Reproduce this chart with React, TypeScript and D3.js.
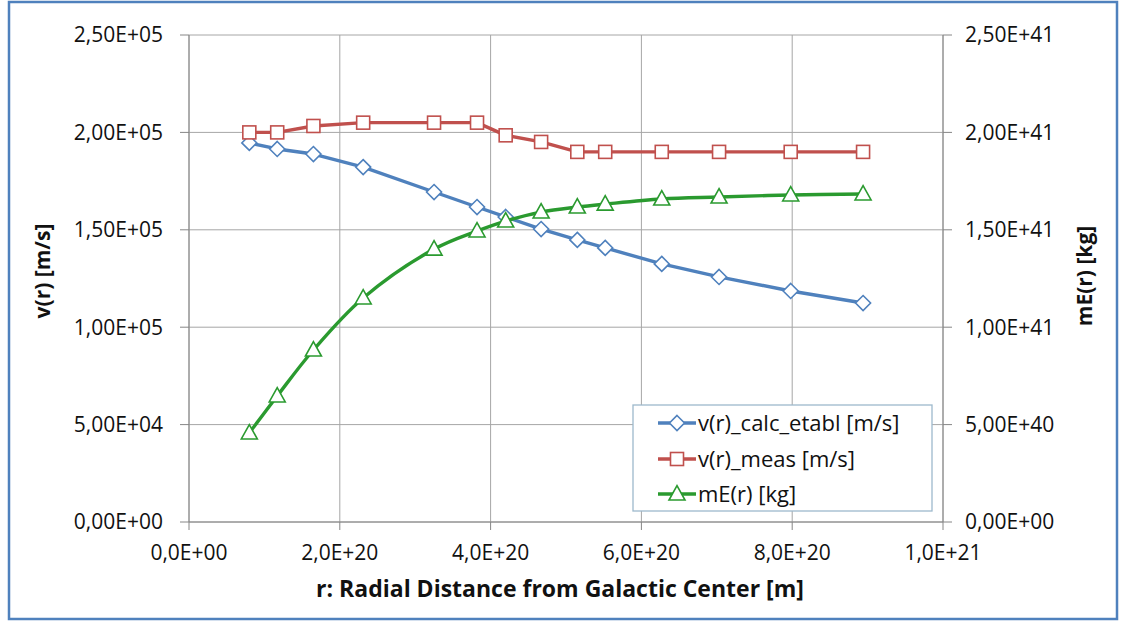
import React from 'react';
import * as d3 from 'd3';

// r in units of 1e20 m
const radius = [0.8, 1.17, 1.65, 2.31, 3.25, 3.82, 4.2, 4.67, 5.15, 5.52, 6.27, 7.03, 7.98, 8.94];
// velocities in units of 1e5 m/s
const vCalc = [1.946, 1.915, 1.889, 1.822, 1.694, 1.617, 1.566, 1.504, 1.448, 1.407, 1.325, 1.258, 1.186, 1.124];
const vMeas = [2.0, 2.0, 2.033, 2.05, 2.05, 2.05, 1.985, 1.951, 1.9, 1.9, 1.9, 1.9, 1.9, 1.9];
// mass in units of 1e41 kg
const mass = [0.457, 0.647, 0.883, 1.15, 1.401, 1.494, 1.545, 1.591, 1.617, 1.632, 1.658, 1.668, 1.679, 1.684];

const xTicks = [0, 2, 4, 6, 8, 10];
const xTickLabels = ['0,0E+00', '2,0E+20', '4,0E+20', '6,0E+20', '8,0E+20', '1,0E+21'];
const yTicks = [0, 0.5, 1, 1.5, 2, 2.5];
const yLeftLabels = ['0,00E+00', '5,00E+04', '1,00E+05', '1,50E+05', '2,00E+05', '2,50E+05'];
const yRightLabels = ['0,00E+00', '5,00E+40', '1,00E+41', '1,50E+41', '2,00E+41', '2,50E+41'];

const seriesNames = ['v(r)_calc_etabl [m/s]', 'v(r)_meas [m/s]', 'mE(r) [kg]'];
const seriesColors = ['#4F81BD', '#C0504D', '#2A9A2F'];

const W = 1121;
const H = 623;
const plot = { left: 189, right: 943, top: 35, bottom: 522 };
const font = '"Open Sans", sans-serif';
const ink = '#111';

const Marker: React.FC<{ kind: number; x: number; y: number; color: string }> = ({ kind, x, y, color }) => {
    if (kind === 0) {
        const s = 7.5;
        return (
            <path
                d={`M${x},${y - s}L${x + s},${y}L${x},${y + s}L${x - s},${y}Z`}
                fill="#fff"
                stroke={color}
                strokeWidth={1.6}
            />
        );
    }
    if (kind === 1) {
        const s = 6.5;
        return <rect x={x - s} y={y - s} width={2 * s} height={2 * s} fill="#fff" stroke={color} strokeWidth={1.6} />;
    }
    const s = 8;
    return (
        <path
            d={`M${x},${y - s * 1.05}L${x + s},${y + s * 0.75}L${x - s},${y + s * 0.75}Z`}
            fill="#fff"
            stroke={color}
            strokeWidth={1.6}
        />
    );
};

export default function App() {
    const x = d3.scaleLinear().domain([0, 10]).range([plot.left, plot.right]);
    const yL = d3.scaleLinear().domain([0, 2.5]).range([plot.bottom, plot.top]);
    const yR = d3.scaleLinear().domain([0, 2.5]).range([plot.bottom, plot.top]);

    const series = [
        { values: vCalc, scale: yL, curve: d3.curveLinear },
        { values: vMeas, scale: yL, curve: d3.curveLinear },
        { values: mass, scale: yR, curve: d3.curveCatmullRom.alpha(0.5) },
    ];

    const legend = { x: 633, y: 405, w: 299, h: 106 };
    const legendRows = [423, 459, 494];

    return (
        <>
            <style>{'body{margin:0}'}</style>
            <svg width={W} height={H} style={{ display: 'block', fontFamily: font }}>
                <rect x={0} y={0} width={W} height={H} fill="#fff" />
                <rect x={9} y={2} width={1108} height={617} fill="none" stroke="#4F81BD" strokeWidth={2.5} />

                {/* gridlines */}
                {yTicks.map((t) => (
                    <line key={'gy' + t} x1={plot.left} x2={plot.right} y1={yL(t)} y2={yL(t)} stroke="#A6A6A6" strokeWidth={1} />
                ))}
                {xTicks.map((t) => (
                    <line key={'gx' + t} x1={x(t)} x2={x(t)} y1={plot.top} y2={plot.bottom} stroke="#A6A6A6" strokeWidth={1} />
                ))}

                {/* axes */}
                <line x1={plot.left} x2={plot.left} y1={plot.top} y2={plot.bottom} stroke="#868686" />
                <line x1={plot.right} x2={plot.right} y1={plot.top} y2={plot.bottom} stroke="#868686" />
                <line x1={plot.left} x2={plot.right} y1={plot.bottom} y2={plot.bottom} stroke="#868686" />
                {yTicks.map((t, i) => (
                    <g key={'yt' + t}>
                        <line x1={plot.left - 9} x2={plot.left} y1={yL(t)} y2={yL(t)} stroke="#868686" />
                        <line x1={plot.right} x2={plot.right + 9} y1={yR(t)} y2={yR(t)} stroke="#868686" />
                        <text x={163} y={yL(t)} dy="0.35em" textAnchor="end" fontSize={21} fill={ink}>
                            {yLeftLabels[i]}
                        </text>
                        <text x={965} y={yR(t)} dy="0.35em" textAnchor="start" fontSize={21} fill={ink}>
                            {yRightLabels[i]}
                        </text>
                    </g>
                ))}
                {xTicks.map((t, i) => (
                    <g key={'xt' + t}>
                        <line x1={x(t)} x2={x(t)} y1={plot.bottom} y2={plot.bottom + 8} stroke="#868686" />
                        <text x={x(t)} y={553} dy="0.35em" textAnchor="middle" fontSize={21} fill={ink}>
                            {xTickLabels[i]}
                        </text>
                    </g>
                ))}

                {/* series */}
                {series.map((s, si) => {
                    const line = d3
                        .line<number>()
                        .x((_, i) => x(radius[i]))
                        .y((v) => s.scale(v))
                        .curve(s.curve);
                    return (
                        <g key={'s' + si}>
                            <path d={line(s.values) || ''} fill="none" stroke={seriesColors[si]} strokeWidth={3.4} strokeLinejoin="round" />
                            {s.values.map((v, i) => (
                                <Marker key={i} kind={si} x={x(radius[i])} y={s.scale(v)} color={seriesColors[si]} />
                            ))}
                        </g>
                    );
                })}

                {/* axis titles */}
                <text
                    transform={`translate(50, 271) rotate(-90)`}
                    textAnchor="middle"
                    fontSize={21}
                    fontWeight="bold"
                    fill={ink}
                >
                    v(r) [m/s]
                </text>
                <text
                    transform={`translate(1092, 276) rotate(-90)`}
                    textAnchor="middle"
                    fontSize={21}
                    fontWeight="bold"
                    fill={ink}
                >
                    mE(r) [kg]
                </text>
                <text x={560} y={589} dy="0.35em" textAnchor="middle" fontSize={23} fontWeight="bold" fill={ink}>
                    r: Radial Distance from Galactic Center [m]
                </text>

                {/* legend */}
                <rect x={legend.x} y={legend.y} width={legend.w} height={legend.h} fill="#fff" stroke="#9DB9CC" strokeWidth={1.3} />
                {seriesNames.map((name, i) => (
                    <g key={'lg' + i}>
                        <line x1={658} x2={696} y1={legendRows[i]} y2={legendRows[i]} stroke={seriesColors[i]} strokeWidth={3.4} />
                        <Marker kind={i} x={677} y={legendRows[i]} color={seriesColors[i]} />
                        <text x={698} y={legendRows[i]} dy="0.35em" fontSize={22} fill={ink}>
                            {name}
                        </text>
                    </g>
                ))}
            </svg>
        </>
    );
}
